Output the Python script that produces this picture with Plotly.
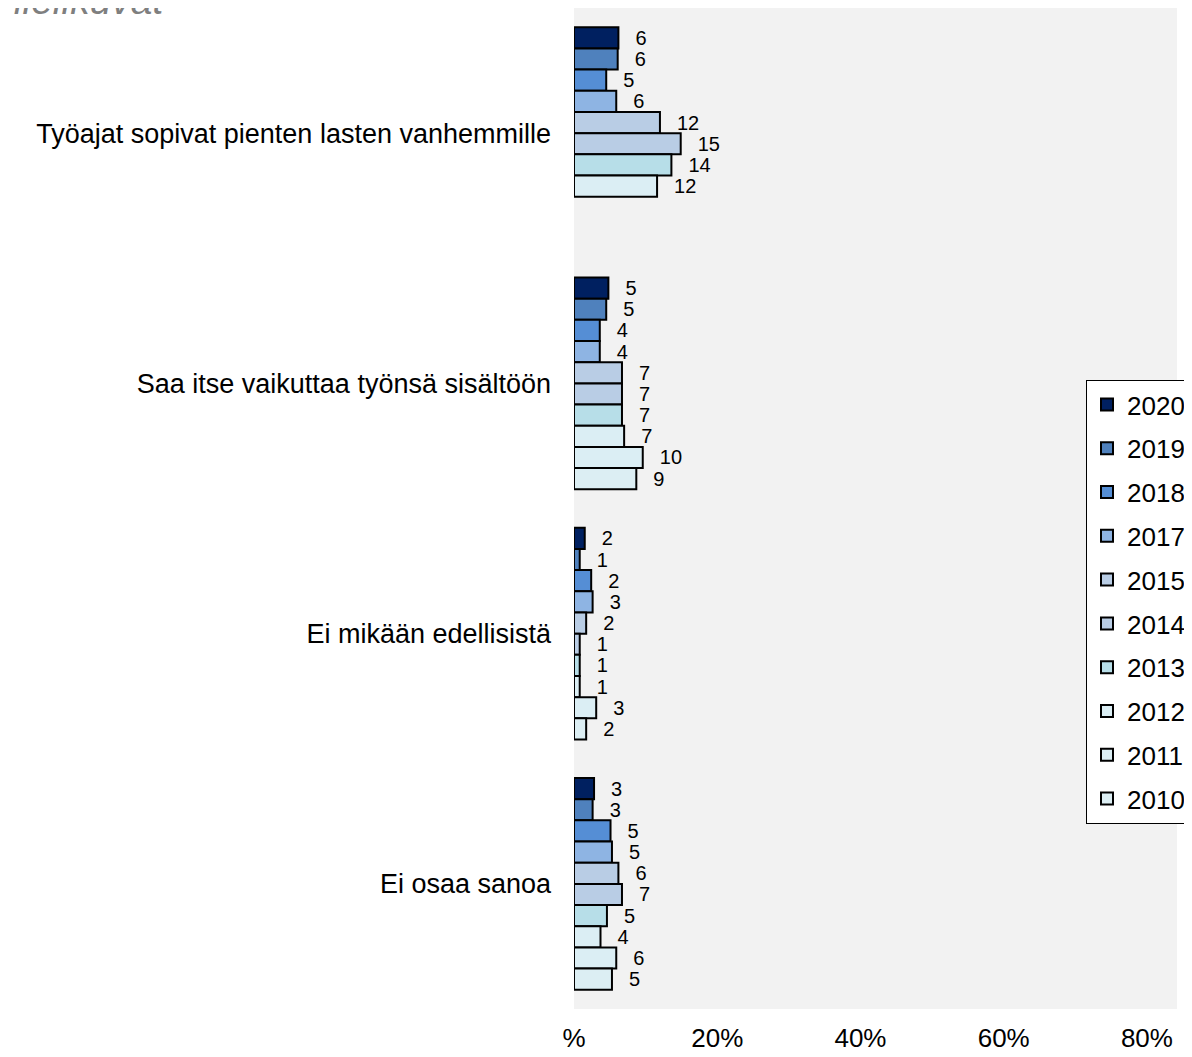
import plotly.graph_objects as go

categories = [
    "Työajat sopivat pienten lasten vanhemmille",
    "Saa itse vaikuttaa työnsä sisältöön",
    "Ei mikään edellisistä",
    "Ei osaa sanoa",
]
years = ["2020", "2019", "2018", "2017", "2015", "2014", "2013", "2012", "2011", "2010"]

v2020 = [6.2, 4.8, 1.5, 2.8]
v2019 = [6.1, 4.5, 0.8, 2.6]
v2018 = [4.5, 3.6, 2.4, 5.1]
v2017 = [5.9, 3.6, 2.6, 5.3]
v2015 = [12.0, 6.7, 1.7, 6.2]
v2014 = [14.9, 6.7, 0.8, 6.7]
v2013 = [13.6, 6.7, 0.8, 4.6]
v2012 = [11.6, 7.0, 0.8, 3.7]
v2011 = [None, 9.6, 3.1, 5.9]
v2010 = [None, 8.7, 1.7, 5.3]

x_tickvals = [0, 20, 40, 60, 80]
x_ticktext = ["%", "20%", "40%", "60%", "80%"]

colors = ["#002060", "#4F81BD", "#558ED5", "#8EB4E3", "#B9CDE5",
          "#B9CDE5", "#B7DEE8", "#DBEEF4", "#DBEEF4", "#DCEEF3"]

series = [v2020, v2019, v2018, v2017, v2015, v2014, v2013, v2012, v2011, v2010]

FONT = "Liberation Sans, Arial, sans-serif"

# page body has an 8px margin; figure coordinates are offset by it
ML, MT = 566, 0
PW, PH = 603, 1001

fig = go.Figure()
for yr, vals, col in zip(years, series, colors):
    fig.add_trace(go.Bar(
        y=categories, x=vals, name=yr, orientation="h",
        marker=dict(color=col, line=dict(color="#000000", width=2)),
        texttemplate="\u2002\u2009%{x:.0f}", textposition="outside",
        textfont=dict(size=20, color="#000000", family=FONT),
        constraintext="none", cliponaxis=False,
        legendgroup=yr,
    ))

fig.update_layout(
    width=1192, height=1057,
    barmode="group", bargap=0.154, bargroupgap=0.0,
    plot_bgcolor="#F2F2F2", paper_bgcolor="#FFFFFF",
    margin=dict(l=ML, r=1192 - ML - PW, t=MT, b=1057 - MT - PH),
    font=dict(family=FONT, size=27, color="#000000"),
    showlegend=True,
    legend=dict(
        x=(1078 - ML) / PW, y=(PH - 372) / PH, xanchor="left", yanchor="top",
        bgcolor="#FFFFFF", bordercolor="#000000", borderwidth=1,
        font=dict(size=26, family=FONT, color="#000000"),
        tracegroupgap=7, traceorder="grouped",
    ),
    xaxis=dict(range=[0, 84.2], tickvals=x_tickvals, ticktext=x_ticktext,
               showgrid=False, zeroline=False, showline=False,
               ticks="", ticklabelstandoff=11,
               tickfont=dict(size=26, family=FONT, color="#000000")),
    yaxis=dict(autorange="reversed", showgrid=False, zeroline=False, showline=False,
               ticks="", ticklabelstandoff=22,
               tickfont=dict(size=27, family=FONT, color="#000000")),
    annotations=[dict(
        text="<i>mielikuvat</i>", xref="paper", yref="paper",
        x=(-20 - ML) / PW, y=(PH - 16) / PH, xanchor="left", yanchor="bottom",
        showarrow=False, font=dict(size=39, color="#7F7F7F", family=FONT),
    )],
)

fig.write_html("out.html")
